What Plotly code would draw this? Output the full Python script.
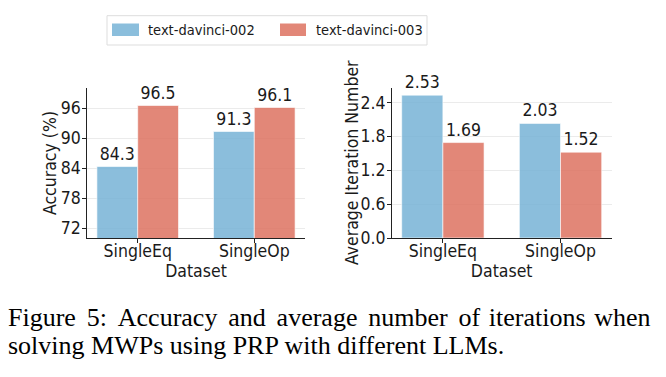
import plotly.graph_objects as go

# ---- data ----
datasets = ["SingleEq", "SingleOp"]
models = ["text-davinci-002", "text-davinci-003"]
accuracy_002 = [84.3, 91.3]
accuracy_003 = [96.5, 96.1]
iterations_002 = [2.53, 2.03]
iterations_003 = [1.69, 1.52]
acc_ticks = [72, 78, 84, 90, 96]
iter_ticks = [0.0, 0.6, 1.2, 1.8, 2.4]
y_titles = ["Accuracy (%)", "Average Iteration Number"]
x_title = "Dataset"
caption_lines = [
    "Figure 5: Accuracy and average number of iterations when",
    "solving MWPs using PRP with different LLMs.",
]

W, H = 666, 377
OFF = 8  # page body margin of the browser
FONT = "DejaVu Sans Condensed, DejaVu Sans"
FS = 17.5
TXT = "#1a1a1a"
colors = ["rgba(119,179,214,0.85)", "rgba(221,114,96,0.85)"]

def px_x(p):
    return (p - OFF) / W

def px_y(p):
    return 1 - (p - OFF) / H

fig = go.Figure()

for i, (vals, name) in enumerate(zip([accuracy_002, accuracy_003], models)):
    fig.add_trace(go.Bar(
        x=datasets, y=vals, name=name, xaxis="x", yaxis="y",
        marker=dict(color=colors[i], line=dict(color="white", width=0.6)),
        text=vals, texttemplate="%{y:.1f}", textposition="outside",
        textfont=dict(family=FONT, size=FS, color=TXT),
        constraintext="none", cliponaxis=False, showlegend=False,
    ))
for i, (vals, name) in enumerate(zip([iterations_002, iterations_003], models)):
    fig.add_trace(go.Bar(
        x=datasets, y=vals, name=name, xaxis="x2", yaxis="y2",
        marker=dict(color=colors[i], line=dict(color="white", width=0.6)),
        text=vals, texttemplate="%{y:.2f}", textposition="outside",
        textfont=dict(family=FONT, size=FS, color=TXT),
        constraintext="none", cliponaxis=False, showlegend=False,
    ))

axis_common = dict(
    showline=True, linecolor="#222", linewidth=1.2, mirror=False,
    ticks="outside", ticklen=3.5, tickwidth=1, tickcolor="#222",
    tickfont=dict(family=FONT, size=FS, color=TXT),
    zeroline=False, automargin=False,
)
title_font = dict(family=FONT, size=FS, color=TXT)

ydom = [px_y(238), px_y(88)]
fig.update_layout(
    width=W, height=H,
    margin=dict(l=0, r=0, t=0, b=0),
    paper_bgcolor="white", plot_bgcolor="white",
    barmode="group", bargap=0.3, bargroupgap=0,
    xaxis=dict(domain=[px_x(87), px_x(305)], anchor="y", type="category",
               range=[-0.435, 1.435], showgrid=False, ticklabelstandoff=-7,
               title=dict(text=x_title, font=title_font, standoff=0),
               **axis_common),
    yaxis=dict(domain=ydom, anchor="x", range=[70, 100], tickvals=acc_ticks,
               showgrid=True, gridcolor="#ebebeb", gridwidth=1, ticklabelstandoff=-2,
               **axis_common),
    xaxis2=dict(domain=[px_x(391.7), px_x(611.7)], anchor="y2", type="category",
                range=[-0.435, 1.435], showgrid=False, ticklabelstandoff=-7,
                title=dict(text=x_title, font=title_font, standoff=0),
                **axis_common),
    yaxis2=dict(domain=ydom, anchor="x2", range=[0, 2.53 * 1.05], tickvals=iter_ticks,
                tickformat=".1f", ticklabelstandoff=-2,
                showgrid=True, gridcolor="#ebebeb", gridwidth=1,
                **axis_common),
)

annotations = []
# ---- y axis titles ----
for t, xx in zip(y_titles, [50, 352]):
    annotations.append(dict(text=t, xref="paper", yref="paper",
                            x=px_x(xx), y=px_y(163), xanchor="center", yanchor="middle",
                            textangle=-90, showarrow=False, font=title_font))

# ---- legend (manual, matplotlib-style) ----
shapes = [dict(type="rect", xref="paper", yref="paper",
               x0=px_x(107), x1=px_x(427), y0=px_y(45), y1=px_y(15.7),
               line=dict(color="#dddddd", width=1), fillcolor="white", layer="above")]
patch_x = [(112, 139), (280, 306)]
text_x = [146, 314]
for i, name in enumerate(models):
    shapes.append(dict(type="rect", xref="paper", yref="paper",
                       x0=px_x(patch_x[i][0]), x1=px_x(patch_x[i][1]),
                       y0=px_y(36), y1=px_y(23.5),
                       line=dict(width=0), fillcolor=colors[i], layer="above"))
    annotations.append(dict(text=name, xref="paper", yref="paper",
                            x=px_x(text_x[i]), y=px_y(30), xanchor="left", yanchor="middle",
                            showarrow=False, font=dict(family=FONT, size=14.5, color=TXT)))

# ---- caption (first line justified like LaTeX via hair spaces) ----
words = caption_lines[0].split(" ")
line0 = words[0]
for k, w in enumerate(words[1:]):
    line0 += " \u200a" + ("\u200a" if k < 6 else "") + w
cap_text = [line0, caption_lines[1]]
cap_y = [317, 345]
for line, yy in zip(cap_text, cap_y):
    annotations.append(dict(text=line, xref="paper", yref="paper",
                            x=px_x(6), y=px_y(yy), xanchor="left", yanchor="middle",
                            showarrow=False,
                            font=dict(family="Liberation Serif", size=26, color="black")))

fig.update_layout(shapes=shapes, annotations=annotations)
fig.write_html("out.html")
